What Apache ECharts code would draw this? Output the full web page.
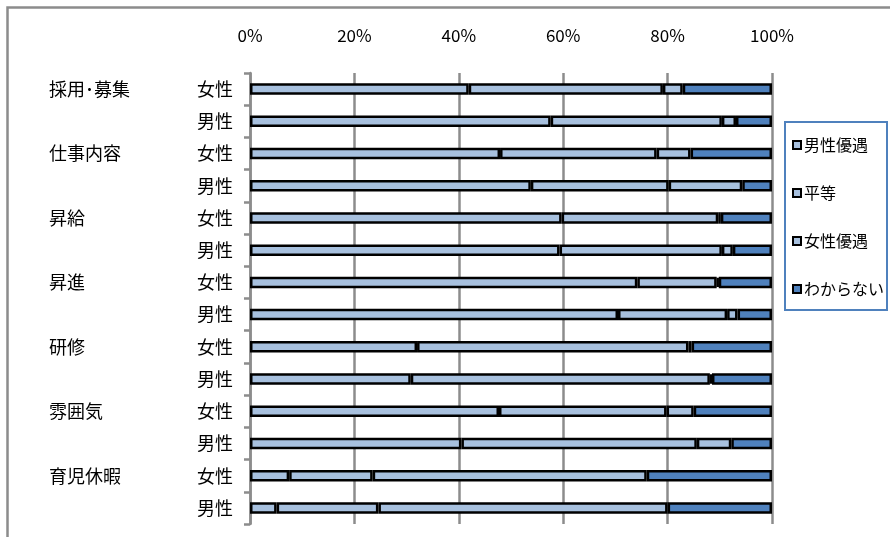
<!DOCTYPE html>
<html>
<head>
<meta charset="utf-8">
<script src="https://cdn.jsdelivr.net/npm/echarts@6/dist/echarts.min.js"></script>
<style>
  html, body { margin: 0; padding: 0; background: #fff; }
  #chart { width: 890px; height: 537px; }
</style>
</head>
<body>
<div id="chart"></div>
<script>
// 項目（上から順に 女性・男性 の2行ずつ）
var groups = ['採用･募集', '仕事内容', '昇給', '昇進', '研修', '雰囲気', '育児休暇']
var sexes = ['女性', '男性']
var seriesNames = ['男性優遇', '平等', '女性優遇', 'わからない']

// 値 (%)
var maleFavored = [41.9, 57.6, 47.9, 53.8, 59.7, 59.3, 74.2, 70.5, 32.0, 30.8, 47.7, 40.5, 7.5, 5.1]
var equal = [37.2, 32.8, 30.0, 26.4, 30.0, 31.1, 15.2, 20.9, 52.0, 57.3, 32.1, 45.1, 16.0, 19.5]
var femaleFavored = [3.8, 2.7, 6.5, 14.1, 0.5, 2.1, 0.4, 2.0, 0.6, 0.4, 5.2, 6.6, 52.5, 55.4]
var unknown = [17.1, 6.9, 15.6, 5.7, 9.8, 7.5, 10.2, 6.6, 15.4, 11.5, 15.0, 7.8, 24.0, 20.0]

var colorArray = ['#a7c0de', '#a7c0de', '#a7c0de', '#4f81bd']
var font = '"Noto Sans CJK JP", "Noto Sans", sans-serif'

var rows = []
groups.forEach(function (g) {
	sexes.forEach(function (s) {
		rows.push(g + '|' + s)
	})
})

var myChart = echarts.init(document.getElementById('chart'), null, { renderer: 'canvas' })

var _series = [maleFavored, equal, femaleFavored, unknown].map(function (item, index) {
	return {
		name: seriesNames[index],
		type: 'bar',
		stack: 'total',
		barWidth: 11.5,
		data: item,
		itemStyle: {
			color: colorArray[index],
			borderColor: '#000',
			borderWidth: 2.5
		}
	}
})

var option = {
	animation: false,
	backgroundColor: '#fff',
	textStyle: { fontFamily: font, color: '#000' },
	grid: {
		left: 250,
		right: 118,
		top: 73,
		bottom: 13
	},
	legend: {
		orient: 'vertical',
		left: 785,
		top: 122,
		padding: [15, 3, 13, 7],
		itemGap: 32,
		itemWidth: 8,
		itemHeight: 8,
		icon: 'rect',
		borderColor: '#4f81bd',
		borderWidth: 2,
		textStyle: { fontFamily: font, fontSize: 16, color: '#000', padding: [0, 0, 0, -2] },
		data: seriesNames
	},
	xAxis: {
		type: 'value',
		position: 'top',
		min: 0,
		max: 100,
		interval: 20,
		axisLine: { show: false },
		axisTick: { show: false },
		axisLabel: {
			margin: 29,
			fontSize: 17,
			fontFamily: font,
			color: '#000',
			formatter: '{value}%'
		},
		splitLine: {
			show: true,
			lineStyle: { color: '#8c8c8c', width: 2.5 }
		}
	},
	yAxis: {
		type: 'category',
		inverse: true,
		data: rows,
		axisLine: {
			show: true,
			lineStyle: { color: '#8c8c8c', width: 2.5 }
		},
		axisTick: {
			show: true,
			length: 6,
			lineStyle: { color: '#8c8c8c', width: 2.5 }
		},
		axisLabel: {
			margin: 17,
			fontFamily: font,
			fontSize: 18,
			color: '#000',
			formatter: function (value, index) {
				var parts = value.split('|')
				if (index % 2 === 0) {
					return '{g|' + parts[0] + '}{s|' + parts[1] + '}'
				}
				return '{s|' + parts[1] + '}'
			},
			rich: {
				g: { width: 148, align: 'left', fontSize: 18, fontFamily: font, color: '#000' },
				s: { fontSize: 18, fontFamily: font, color: '#000' }
			}
		}
	},
	graphic: [{
		type: 'rect',
		silent: true,
		shape: { x: 7.5, y: 7.5, width: 900, height: 600 },
		style: { fill: 'none', stroke: '#8c8c8c', lineWidth: 2.5 }
	}],
	series: _series
}

myChart.setOption(option)
</script>
</body>
</html>
